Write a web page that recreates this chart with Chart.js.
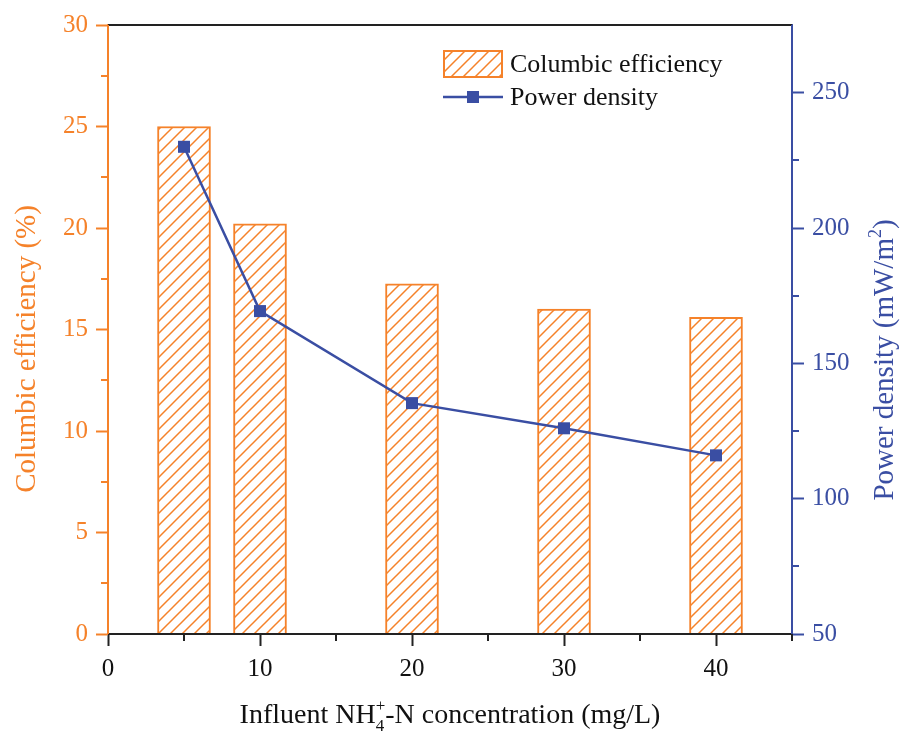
<!DOCTYPE html>
<html>
<head>
<meta charset="utf-8">
<script src="https://cdn.jsdelivr.net/npm/chart.js@4.4.1/dist/chart.umd.min.js"></script>
<style>
html,body{margin:0;padding:0;background:#fff;}
#wrap{width:901px;height:737px;}
</style>
</head>
<body>
<div id="wrap"><canvas id="c" width="901" height="737"></canvas></div>
<script>
// ---- data ----
const concentrations = [5, 10, 20, 30, 40];
const columbicEfficiency = [25.0, 20.2, 17.25, 16.0, 15.6];
const powerDensity = [230, 169.3, 135.3, 126, 116];
const barLabel = 'Columbic efficiency';
const lineLabel = 'Power density';
const xMinorTicks = [5, 15, 25, 35, 45];
const yMinorTicks = [2.5, 7.5, 12.5, 17.5, 22.5, 27.5];
const y1MinorTicks = [75, 125, 175, 225];

const ORANGE = '#F5822A';
const BLUE = '#3A4EA3';
const FONT = "'Liberation Serif', 'Times New Roman', serif";

function makeHatch() {
  const P = 12;
  const c = document.createElement('canvas');
  c.width = P; c.height = P;
  const g = c.getContext('2d');
  g.fillStyle = '#fff';
  g.fillRect(0, 0, P, P);
  g.strokeStyle = ORANGE;
  g.lineWidth = 1.5;
  g.beginPath();
  g.moveTo(-1, P + 1); g.lineTo(P + 1, -1);
  g.moveTo(-P / 2 - 1, P / 2 + 1); g.lineTo(P / 2 + 1, -P / 2 - 1);
  g.moveTo(P / 2 - 1, P * 1.5 + 1); g.lineTo(P * 1.5 + 1, P / 2 - 1);
  g.stroke();
  return document.getElementById('c').getContext('2d').createPattern(c, 'repeat');
}
const hatch = makeHatch();

function drawRich(ctx, segs, cx, cy, rot, size, color) {
  ctx.save();
  ctx.translate(cx, cy);
  ctx.rotate(rot);
  ctx.fillStyle = color;
  ctx.textBaseline = 'alphabetic';
  ctx.textAlign = 'left';
  const big = size + 'px ' + FONT;
  const small = Math.round(size * 0.62) + 'px ' + FONT;
  let total = 0;
  const widths = segs.map(s => {
    let w;
    if (s.text !== undefined) { ctx.font = big; w = ctx.measureText(s.text).width; }
    else {
      ctx.font = small;
      w = Math.max(s.sup ? ctx.measureText(s.sup).width : 0, s.sub ? ctx.measureText(s.sub).width : 0);
    }
    total += w;
    return w;
  });
  let x = -total / 2;
  segs.forEach((s, i) => {
    if (s.text !== undefined) { ctx.font = big; ctx.fillText(s.text, x, 0); }
    else {
      ctx.font = small;
      if (s.sup) ctx.fillText(s.sup, x, -size * 0.42);
      if (s.sub) ctx.fillText(s.sub, x, size * 0.28);
    }
    x += widths[i];
  });
  ctx.restore();
}

const decor = {
  id: 'decor',
  afterDatasetsDraw(chart) {
    const ctx = chart.ctx;
    const a = chart.chartArea;
    const xs = chart.scales.x, ys = chart.scales.y, y1 = chart.scales.y1;
    ctx.save();
    ctx.lineWidth = 2;
    // frame
    ctx.strokeStyle = '#222';
    ctx.beginPath(); ctx.moveTo(a.left, a.top); ctx.lineTo(a.right, a.top); ctx.stroke();
    ctx.beginPath(); ctx.moveTo(a.left, a.bottom); ctx.lineTo(a.right, a.bottom); ctx.stroke();
    ctx.strokeStyle = ORANGE;
    ctx.beginPath(); ctx.moveTo(a.left, a.top); ctx.lineTo(a.left, a.bottom); ctx.stroke();
    ctx.strokeStyle = BLUE;
    ctx.beginPath(); ctx.moveTo(a.right, a.top); ctx.lineTo(a.right, a.bottom + 1); ctx.stroke();
    // minor ticks
    ctx.strokeStyle = '#222';
    xMinorTicks.forEach(v => {
      const p = Math.round(xs.getPixelForValue(v));
      ctx.beginPath(); ctx.moveTo(p, a.bottom); ctx.lineTo(p, a.bottom + 7); ctx.stroke();
    });
    ctx.strokeStyle = ORANGE;
    yMinorTicks.forEach(v => {
      const p = Math.round(ys.getPixelForValue(v));
      ctx.beginPath(); ctx.moveTo(a.left, p); ctx.lineTo(a.left - 7, p); ctx.stroke();
    });
    ctx.strokeStyle = BLUE;
    y1MinorTicks.forEach(v => {
      const p = Math.round(y1.getPixelForValue(v));
      ctx.beginPath(); ctx.moveTo(a.right, p); ctx.lineTo(a.right + 7, p); ctx.stroke();
    });
    ctx.restore();
  },
  afterDraw(chart) {
    const ctx = chart.ctx;
    // axis titles
    drawRich(ctx, [{text: 'Influent NH'}, {sup: '+', sub: '4'}, {text: '-N concentration (mg/L)'}],
      450, 723, 0, 28, '#111');
    drawRich(ctx, [{text: 'Columbic efficiency (%)'}], 35, 349, -Math.PI / 2, 29, ORANGE);
    drawRich(ctx, [{text: 'Power density (mW/m'}, {sup: '2'}, {text: ')'}], 893, 360, -Math.PI / 2, 29, BLUE);
    // legend
    ctx.save();
    ctx.fillStyle = hatch;
    ctx.fillRect(444, 51, 58, 26);
    ctx.strokeStyle = ORANGE; ctx.lineWidth = 2;
    ctx.strokeRect(444, 51, 58, 26);
    ctx.strokeStyle = BLUE; ctx.lineWidth = 2.5;
    ctx.beginPath(); ctx.moveTo(443, 97); ctx.lineTo(503, 97); ctx.stroke();
    ctx.fillStyle = BLUE;
    ctx.fillRect(467, 91, 12, 12);
    ctx.fillStyle = '#111';
    ctx.font = '26px ' + FONT;
    ctx.textBaseline = 'middle';
    ctx.textAlign = 'left';
    ctx.fillText(chart.data.datasets[1].label, 510, 65);
    ctx.fillText(chart.data.datasets[0].label, 510, 98);
    ctx.restore();
  }
};

const tickFont = {family: FONT, size: 25};

new Chart(document.getElementById('c'), {
  data: {
    datasets: [
      {
        type: 'line',
        label: lineLabel,
        data: concentrations.map((x, i) => ({x, y: powerDensity[i]})),
        yAxisID: 'y1',
        borderColor: BLUE,
        backgroundColor: BLUE,
        borderWidth: 2.5,
        pointStyle: 'rect',
        pointRadius: 8.5,
        pointBorderWidth: 0,
        pointBackgroundColor: BLUE,
        tension: 0,
        order: 0
      },
      {
        type: 'bar',
        label: barLabel,
        data: concentrations.map((x, i) => ({x, y: columbicEfficiency[i]})),
        yAxisID: 'y',
        backgroundColor: hatch,
        borderColor: ORANGE,
        borderWidth: 2,
        borderSkipped: 'bottom',
        barThickness: 53,
        order: 1
      }
    ]
  },
  options: {
    responsive: false,
    animation: false,
    devicePixelRatio: 1,
    layout: {padding: {top: 25, left: 0, right: 0, bottom: 0}},
    plugins: {legend: {display: false}, tooltip: {enabled: false}, title: {display: false}},
    scales: {
      x: {
        type: 'linear', position: 'bottom', min: 0, max: 45, offset: false,
        ticks: {stepSize: 10, includeBounds: false, color: '#111', font: tickFont, padding: 8, maxRotation: 0},
        grid: {display: true, offset: false, drawOnChartArea: false, drawTicks: true, tickLength: 12, tickWidth: 2, tickColor: '#222'},
        border: {display: true, color: '#222', width: 2},
        afterFit(s) { s.height = 103; }
      },
      y: {
        type: 'linear', position: 'left', min: 0, max: 30,
        ticks: {stepSize: 5, color: ORANGE, font: tickFont, padding: 8},
        grid: {display: true, drawOnChartArea: false, drawTicks: true, tickLength: 12, tickWidth: 2, tickColor: ORANGE},
        border: {display: true, color: ORANGE, width: 2},
        afterFit(s) { s.width = 108; }
      },
      y1: {
        type: 'linear', position: 'right', min: 50, max: 275,
        ticks: {stepSize: 50, includeBounds: false, color: BLUE, font: tickFont, padding: 8},
        grid: {display: true, drawOnChartArea: false, drawTicks: true, tickLength: 12, tickWidth: 2, tickColor: BLUE},
        border: {display: true, color: BLUE, width: 2},
        afterFit(s) { s.width = 109; }
      }
    }
  },
  plugins: [decor]
});
</script>
</body>
</html>
